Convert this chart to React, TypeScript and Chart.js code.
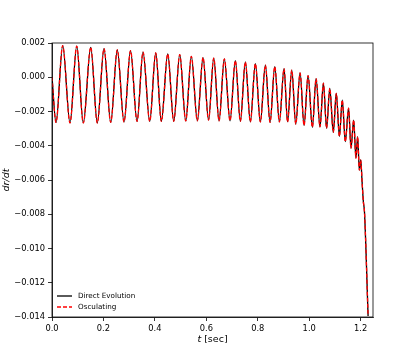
import React, { useEffect, useRef } from "react";
import { Chart, registerables } from "chart.js";

Chart.register(...registerables);

// Extrema (and end points): time in seconds
const timeSec = [
  0.0, 0.0156, 0.0416, 0.07, 0.0961, 0.1217, 0.1505, 0.1762, 0.2022, 0.2283,
  0.2539, 0.28, 0.3053, 0.3306, 0.3539, 0.38, 0.4033, 0.4251, 0.45, 0.4733,
  0.4966, 0.52, 0.5417, 0.5651, 0.5872, 0.6086, 0.6288, 0.6495, 0.6701, 0.6922,
  0.7128, 0.7323, 0.7517, 0.7712, 0.7906, 0.8101, 0.8295, 0.8478, 0.8661, 0.884,
  0.9022, 0.9158, 0.9322, 0.9477, 0.9645, 0.98, 0.9956, 1.0123, 1.0267, 1.0419,
  1.0552, 1.0676, 1.08, 1.0936, 1.1053, 1.1173, 1.1286, 1.1403, 1.1531, 1.1625,
  1.1728, 1.1817, 1.1883, 1.1949, 1.2003, 1.2056, 1.2106, 1.2149, 1.2289,
];

const directEvolution = [
  0.0, -0.00264, 0.00185, -0.00267, 0.00181, -0.00267, 0.00175, -0.00267, 0.00167, -0.00264,
  0.00159, -0.00261, 0.00155, -0.00258, 0.00147, -0.00257, 0.00142, -0.00257, 0.00136, -0.00257,
  0.00132, -0.00255, 0.00122, -0.00254, 0.00115, -0.0025, 0.00112, -0.00254, 0.00107, -0.00254,
  0.00097, -0.00257, 0.00089, -0.00261, 0.00079, -0.00261, 0.0007, -0.00263, 0.00062, -0.0026,
  0.0005, -0.00261, 0.00041, -0.00273, 0.00025, -0.00281, 0.00009, -0.00292, -0.00008, -0.0029,
  -0.00035, -0.00298, -0.00065, -0.00322, -0.00094, -0.00345, -0.00133, -0.00376, -0.00181, -0.00414,
  -0.0025, -0.00472, -0.00347, -0.00542, -0.00483, -0.00612, -0.00728, -0.00787, -0.01394,
];

const osculating = [
  0.0, -0.00264, 0.00185, -0.00267, 0.00181, -0.00267, 0.00175, -0.00267, 0.00167, -0.00264,
  0.00159, -0.00261, 0.00155, -0.00258, 0.00147, -0.00257, 0.00142, -0.00257, 0.00136, -0.00257,
  0.00132, -0.00255, 0.00122, -0.00254, 0.00115, -0.0025, 0.00112, -0.00254, 0.00107, -0.00254,
  0.00097, -0.00257, 0.00089, -0.00261, 0.00079, -0.00261, 0.0007, -0.00263, 0.00062, -0.0026,
  0.0005, -0.00261, 0.00041, -0.00273, 0.00025, -0.00281, 0.00009, -0.00292, -0.00008, -0.0029,
  -0.00035, -0.00298, -0.00065, -0.00322, -0.00094, -0.00345, -0.00133, -0.00376, -0.00181, -0.00414,
  -0.0025, -0.00472, -0.00347, -0.00542, -0.00483, -0.00612, -0.00728, -0.00787, -0.01394,
];

const xTickValues = [0.0, 0.2, 0.4, 0.6, 0.8, 1.0, 1.2];
const yTickValues = [0.002, 0.0, -0.002, -0.004, -0.006, -0.008, -0.01, -0.012, -0.014];
const seriesLabels = ["Direct Evolution", "Osculating"];

const FONT = "'DejaVu Sans', sans-serif";

function fmt(v: number, d: number) {
  const s = Math.abs(v) < 1e-12 ? (0).toFixed(d) : v.toFixed(d);
  return s.replace("-", "\u2212");
}

const decorPlugin = {
  id: "decor",
  afterDraw(chart: any) {
    const { ctx, chartArea } = chart;
    const { left, right, top, bottom } = chartArea;
    ctx.save();
    // box (top and right spines)
    ctx.strokeStyle = "#000";
    ctx.lineWidth = 0.8;
    ctx.strokeRect(left, top, right - left, bottom - top);

    // legend
    const ds = chart.data.datasets;
    const rows = [
      { y: 296, ds: ds[0] },
      { y: 307, ds: ds[1] },
    ];
    rows.forEach((r) => {
      ctx.beginPath();
      ctx.strokeStyle = r.ds.borderColor;
      ctx.lineWidth = 1.3;
      ctx.setLineDash(r.ds.borderDash || []);
      ctx.moveTo(left + 5, r.y);
      ctx.lineTo(left + 20, r.y);
      ctx.stroke();
      ctx.setLineDash([]);
      ctx.fillStyle = "#000";
      ctx.font = `7.2px ${FONT}`;
      ctx.textAlign = "left";
      ctx.textBaseline = "middle";
      ctx.fillText(r.ds.label, left + 26, r.y);
    });

    // x axis label: italic t + " [sec]"
    ctx.fillStyle = "#000";
    ctx.textBaseline = "middle";
    ctx.textAlign = "left";
    const cx = (left + right) / 2;
    ctx.font = `italic 9.5px ${FONT}`;
    const wT = ctx.measureText("t").width;
    ctx.font = `9.5px ${FONT}`;
    const wRest = ctx.measureText(" [sec]").width;
    const x0 = cx - (wT + wRest) / 2;
    ctx.font = `italic 9.5px ${FONT}`;
    ctx.fillText("t", x0, 340);
    ctx.font = `9.5px ${FONT}`;
    ctx.fillText(" [sec]", x0 + wT, 340);

    // y axis label
    ctx.translate(7, (top + bottom) / 2);
    ctx.rotate(-Math.PI / 2);
    ctx.textAlign = "center";
    ctx.font = `italic 9.5px ${FONT}`;
    ctx.fillText("dr/dt", 0, 0);
    ctx.restore();
  },
};

export default function App() {
  const canvasRef = useRef<HTMLCanvasElement | null>(null);

  useEffect(() => {
    if (!canvasRef.current) return;
    const directPts = timeSec.map((t, i) => ({ x: t, y: directEvolution[i] }));
    const oscPts = timeSec.map((t, i) => ({ x: t, y: osculating[i] }));
    const chart = new Chart(canvasRef.current, {
      type: "line",
      data: {
        datasets: [
          {
            label: seriesLabels[0],
            data: directPts,
            borderColor: "#000000",
            borderWidth: 1.3,
            pointRadius: 0,
            fill: false,
            cubicInterpolationMode: "monotone",
            order: 1,
          },
          {
            label: seriesLabels[1],
            data: oscPts,
            borderColor: "#ff0000",
            borderWidth: 1.3,
            borderDash: [4, 2],
            pointRadius: 0,
            fill: false,
            cubicInterpolationMode: "monotone",
            order: 0,
          },
        ],
      },
      options: {
        responsive: false,
        animation: false,
        events: [],
        layout: { padding: { left: 0, top: 43, right: 42, bottom: 0 } },
        plugins: { legend: { display: false }, tooltip: { enabled: false } },
        scales: {
          x: {
            type: "linear",
            min: 0,
            max: 1.248,
            afterBuildTicks: (scale: any) => {
              scale.ticks = xTickValues.map((v) => ({ value: v }));
            },
            afterFit: (scale: any) => {
              scale.height = 46;
            },
            ticks: {
              autoSkip: false,
              maxRotation: 0,
              padding: 3,
              color: "#000",
              font: { family: FONT, size: 8.3 },
              callback: (v: any) => fmt(Number(v), 1),
            },
            grid: { drawOnChartArea: false, drawTicks: true, tickLength: 4, color: "#000", lineWidth: 0.8 },
            border: { display: true, color: "#000", width: 0.8 },
          },
          y: {
            type: "linear",
            min: -0.014,
            max: 0.002,
            afterBuildTicks: (scale: any) => {
              scale.ticks = yTickValues.map((v) => ({ value: v }));
            },
            afterFit: (scale: any) => {
              scale.width = 52;
            },
            ticks: {
              autoSkip: false,
              padding: 3,
              color: "#000",
              font: { family: FONT, size: 8.3 },
              callback: (v: any) => fmt(Number(v), 3),
            },
            grid: { drawOnChartArea: false, drawTicks: true, tickLength: 4, color: "#000", lineWidth: 0.8 },
            border: { display: true, color: "#000", width: 0.8 },
          },
        },
      },
      plugins: [decorPlugin],
    } as any);
    return () => chart.destroy();
  }, []);

  return (
    <div style={{ position: "fixed", left: 0, top: 0, width: 415, height: 363, background: "#fff" }}>
      <canvas ref={canvasRef} width={415} height={363} style={{ width: 415, height: 363 }} />
    </div>
  );
}
